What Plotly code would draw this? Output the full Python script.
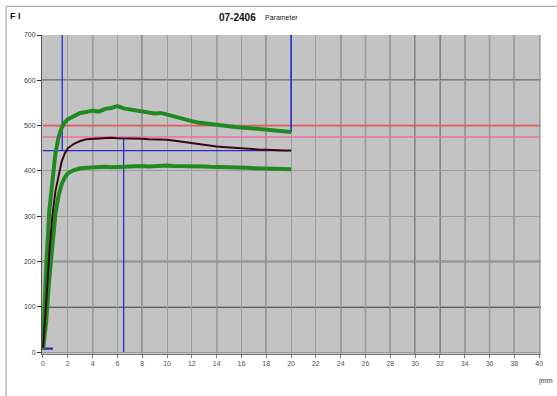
import plotly.graph_objects as go

# time axis (x units) and the three measured series
t = [0, 0.1, 0.25, 0.5, 0.75, 1.0, 1.25, 1.5, 1.75, 2.0, 2.5, 3, 3.5, 4, 4.5, 5, 5.5, 6, 6.5, 7,
     7.5, 8, 8.5, 9, 9.5, 10, 10.5, 11, 11.5, 12, 12.5, 13, 13.5, 14, 14.5, 15, 15.5, 16, 16.5,
     17, 17.5, 18, 18.5, 19, 19.5, 20]
upper = [20, 90, 180, 310, 385, 438, 474, 495, 507, 514, 521, 528, 530, 533, 531, 537, 539, 543,
         538, 536, 533, 531, 529, 527, 528, 524, 520, 516, 513, 510, 507, 505, 503, 501, 499, 498,
         497, 496, 495, 494, 493, 491, 490, 488, 487, 486]
mean = [10, 45, 105, 215, 300, 355, 392, 420, 438, 450, 460, 466, 470, 471, 472, 473, 473, 472,
        472, 472, 471, 471, 470, 470, 470, 469, 467, 465, 463, 461, 459, 457, 455, 454, 453, 452,
        451, 449, 448, 448, 447, 447, 446, 446, 445, 445]
lower = [5, 25, 65, 160, 245, 305, 345, 370, 385, 395, 402, 406, 407, 408, 408, 409, 408, 409,
         410, 409, 410, 411, 410, 411, 412, 412, 411, 411, 412, 411, 410, 410, 409, 409, 408, 408,
         407, 407, 407, 406, 406, 405, 405, 405, 404, 404]

# limit / marker lines
red_level = 500
pink_level = 475
blue_level = 445
blue_h_x = [0, 20]
blue_v1_x, blue_v1_y = [1.55, 1.55], [445, 700]
blue_v2_x, blue_v2_y = [6.5, 6.5], [0, 472]
blue_v3_x, blue_v3_y = [20, 20], [486, 700]
blue_mark_x = [0, 0, 0.8]
blue_mark_y = [22, 8, 8]

x_ticks = list(range(0, 41, 2))
y_ticks = list(range(0, 701, 100))
dark_x_grid = [4, 8, 14, 18, 24, 26, 28, 30, 32, 34, 36, 38]
dark_y_grid = [100, 200, 600]

title_main = "07-2406"
title_sub = "Parameter"
y_unit = "F I"
x_unit = "|mm"

fig = go.Figure()

def line(x, y, color, width):
    fig.add_trace(go.Scatter(x=x, y=y, mode="lines", line=dict(color=color, width=width),
                             hoverinfo="skip", showlegend=False))

# reference lines
line([0, 40], [red_level, red_level], "#e05a5a", 1.6)
line([0, 40], [pink_level, pink_level], "#f06aa8", 1.6)
line(blue_h_x, [blue_level, blue_level], "#2a2ad0", 1.3)
line(blue_v1_x, blue_v1_y, "#2a2ad0", 1.3)
line(blue_v2_x, blue_v2_y, "#2a2ad0", 1.3)
line(blue_v3_x, blue_v3_y, "#2a2ad0", 1.6)
line(blue_mark_x, blue_mark_y, "#2a2ad0", 2.2)

# measured curves
line(t, upper, "#1f8a1f", 4)
line(t, lower, "#1f8a1f", 4)
line(t, mean, "#3a0614", 2)

# darker grid lines
for gx in dark_x_grid:
    fig.add_shape(type="line", x0=gx, x1=gx, y0=0, y1=1, xref="x", yref="paper",
                  line=dict(color="#454545", width=1.2), layer="below")
for gy in dark_y_grid:
    fig.add_shape(type="line", x0=0, x1=1, y0=gy, y1=gy, xref="paper", yref="y",
                  line=dict(color="#3c3c3c", width=1.5), layer="below")

# outer frame
fig.add_shape(type="line", xref="paper", yref="paper", x0=-0.072, x1=1.04, y0=1.09, y1=1.09,
              line=dict(color="#9a9a9a", width=1))
fig.add_shape(type="line", xref="paper", yref="paper", x0=-0.072, x1=-0.072, y0=1.09, y1=-0.14,
              line=dict(color="#9a9a9a", width=1))

fig.add_annotation(text="<b>" + title_main + "</b>", xref="paper", yref="paper",
                   x=0.433, y=1.055, showarrow=False, xanchor="right", yanchor="middle",
                   font=dict(size=10, color="#111", family="Liberation Sans"))
fig.add_annotation(text=title_sub, xref="paper", yref="paper",
                   x=0.443, y=1.055, showarrow=False, xanchor="left", yanchor="middle",
                   font=dict(size=7, color="#222", family="Liberation Sans"))
fig.add_annotation(text="<b>" + y_unit + "</b>", xref="paper", yref="paper",
                   x=-0.068, y=1.06, showarrow=False, xanchor="left", yanchor="middle",
                   font=dict(size=9, color="#111", family="Liberation Sans"))
fig.add_annotation(text=x_unit, xref="paper", yref="paper",
                   x=1.029, y=-0.085, showarrow=False, xanchor="right", yanchor="middle",
                   font=dict(size=7, color="#333", family="Liberation Sans"))

fig.update_layout(
    width=557, height=396,
    margin=dict(l=42, r=16, t=35, b=42),
    paper_bgcolor="white",
    plot_bgcolor="#c3c3c3",
    font=dict(family="Liberation Sans", size=7, color="#444"),
    xaxis=dict(range=[-0.08, 40.15], tickvals=x_ticks, showgrid=True, gridcolor="#9c9c9c",
               gridwidth=1, zeroline=False, showline=True, linecolor="#777", linewidth=1,
               ticks="outside", ticklen=3, tickcolor="#777", tickfont=dict(size=7, color="#555")),
    yaxis=dict(range=[-4, 700], tickvals=y_ticks, showgrid=True, gridcolor="#9c9c9c",
               gridwidth=1, zeroline=False, showline=True, linecolor="#555", linewidth=1,
               ticks="outside", ticklen=4, tickcolor="#333", tickfont=dict(size=7, color="#444")),
)

fig.write_html("out.html")
